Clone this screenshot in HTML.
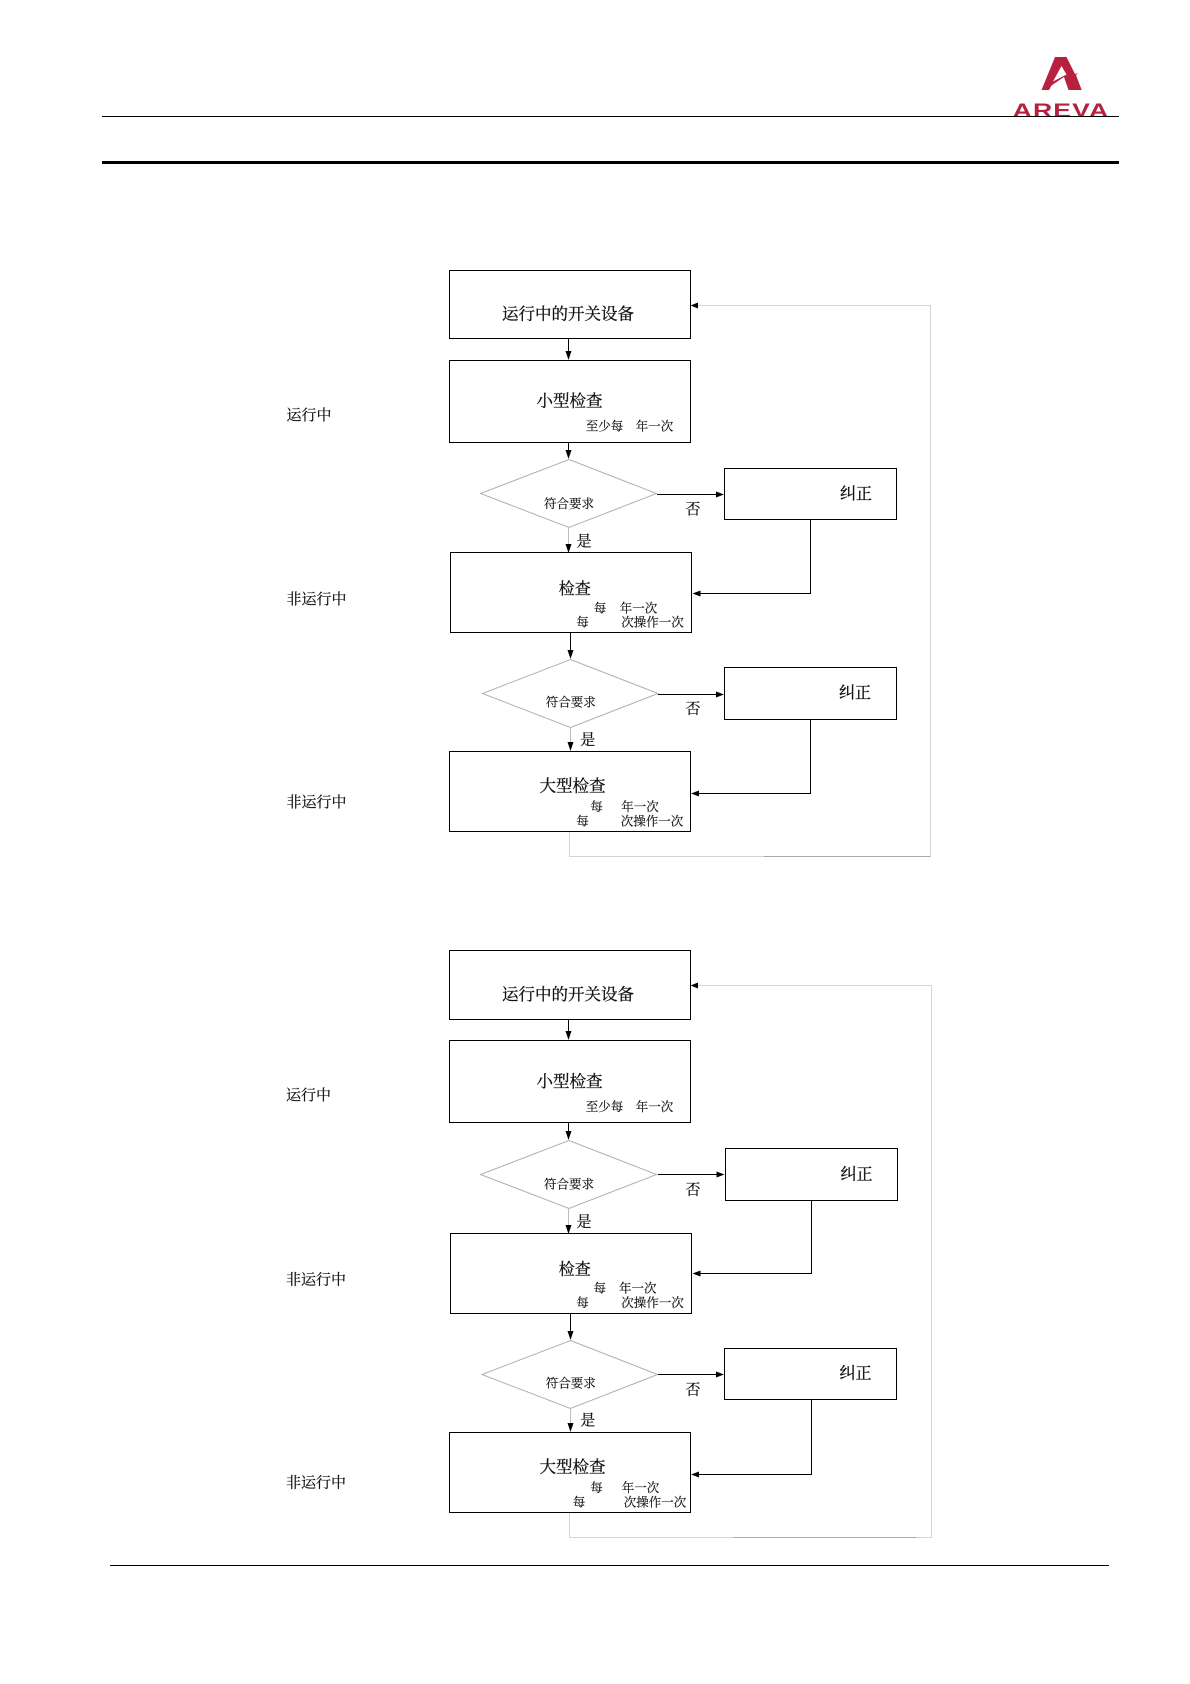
<!DOCTYPE html>
<html><head><meta charset="utf-8">
<style>
html,body{margin:0;padding:0;background:#fff}
svg{display:block}
text{font-family:"Liberation Serif","Noto Serif CJK SC",serif;fill:#111;stroke:#111;stroke-width:.15px;text-anchor:middle;dominant-baseline:central}
.r{fill:#fff;stroke:#000;stroke-width:1}
.d{fill:#fff;stroke:#b0b0b0;stroke-width:1}
.l{fill:none;stroke:#000;stroke-width:1}
.g{fill:none;stroke:#d4d4d4;stroke-width:1}
.y{fill:none;stroke:#bdbdbd;stroke-width:1}
.a{fill:#000}
.b{font-size:16px;stroke-width:.3px}.s{font-size:12.5px}.m{font-size:15px;stroke-width:.2px}
</style></head><body>
<svg width="1190" height="1684" viewBox="0 0 1190 1684" xmlns="http://www.w3.org/2000/svg">
<rect width="1190" height="1684" fill="#fff"/>
<!-- logo -->
<path fill-rule="evenodd" d="M1055 57H1066.500L1075 74L1078 73L1076 75L1081.700 90H1068.500L1064 77L1051.500 85.500L1049 90H1041.500ZM1061.500 66L1053 81.500L1066.500 74.500Z" fill="#b8203f"/>
<text transform="translate(1061,110.500) scale(1.4,1)" x="0" y="0" style="font-family:'Liberation Sans',sans-serif;font-weight:bold;font-size:19px;letter-spacing:.8px;fill:#b8203f;stroke:none">AREVA</text>
<rect x="1000" y="116.500" width="125" height="6" fill="#fff"/>
<!-- header -->
<rect x="102" y="116" width="1017" height="1" fill="#000"/>
<rect x="102" y="161" width="1017" height="3" fill="#000"/>
<rect x="110" y="1565" width="999" height="1" fill="#000"/>

<!-- TOP FLOW -->
<path class="g" d="M569.500 831V856.500H930.500V305.500H694"/>
<path d="M764 856.500H930.500" fill="none" stroke="#aaa"/>
<polygon class="a" points="690.500,305.500 698,302.500 698,308.500"/>
<rect class="r" x="449.500" y="270.500" width="241" height="68"/>
<rect class="r" x="449.500" y="360.500" width="241" height="82"/>
<rect class="r" x="450.500" y="552.500" width="241" height="80"/>
<rect class="r" x="449.500" y="751.500" width="241" height="80"/>
<rect class="r" x="724.500" y="468.500" width="172" height="51"/>
<rect class="r" x="724.500" y="667.500" width="172" height="52"/>
<polygon class="d" points="569,459.500 656.500,493.500 569,527.500 480.500,493.500"/>
<polygon class="d" points="570.500,659.500 658,693.500 570.500,727.500 482.500,693.500"/>
<path class="l" d="M568.500 338V352"/><polygon class="a" points="568.500,360 565.500,351 571.500,351"/>
<path class="l" d="M568.500 442V451"/><polygon class="a" points="568.500,459 565.500,450 571.500,450"/>
<path class="y" d="M568.500 528V545"/><polygon class="a" points="568.500,553 565.500,544 571.500,544"/>
<path class="l" d="M570.500 632V651"/><polygon class="a" points="570.500,659 567.500,650 573.500,650"/>
<path class="y" d="M570.500 728V743"/><polygon class="a" points="570.500,751 567.500,742 573.500,742"/>
<path class="l" d="M657 494.500H717"/><polygon class="a" points="724,494.500 716,491.500 716,497.500"/>
<path class="l" d="M658 694.500H717"/><polygon class="a" points="724,694.500 716,691.500 716,697.500"/>
<path class="l" d="M810.500 519V593.500H700"/><polygon class="a" points="692.500,593.500 700.500,590.500 700.500,596.500"/>
<path class="l" d="M810.500 719V793.500H698"/><polygon class="a" points="691,793.500 699,790.500 699,796.500"/>

<g transform="translate(0,1)">
<text class="b" x="568" y="313" style="font-size:16.500px">运行中的开关设备</text>
<text class="b" x="569.500" y="400" style="font-size:16.500px">小型检查</text>
<text class="s" x="604.500" y="425.500">至少每</text><text class="s" x="654.500" y="425.500">年一次</text>
<text class="s" x="569" y="503">符合要求</text>
<text class="b" x="856" y="493.500">纠正</text>
<text class="m" x="693" y="509">否</text>
<text class="m" x="584" y="541">是</text>
<text class="b" x="574.700" y="588.500">检查</text>
<text class="s" x="600" y="607.500">每</text><text class="s" x="638.500" y="607.500">年一次</text>
<text class="s" x="582.500" y="621.500">每</text><text class="s" x="652.500" y="621.500">次操作一次</text>
<text class="s" x="570.700" y="701.500">符合要求</text>
<text class="b" x="855" y="692.500">纠正</text>
<text class="m" x="693" y="708.500">否</text>
<text class="m" x="587.700" y="739.500">是</text>
<text class="b" x="572.500" y="785" style="font-size:16.500px">大型检查</text>
<text class="s" x="596.500" y="806">每</text><text class="s" x="640" y="806">年一次</text>
<text class="s" x="582.500" y="820.500">每</text><text class="s" x="652" y="820.500">次操作一次</text>
<text class="m" x="309" y="415">运行中</text>
<text class="m" x="316.500" y="599">非运行中</text>
<text class="m" x="316.500" y="802">非运行中</text>
</g>

<!-- BOTTOM FLOW -->
<path class="g" d="M569.500 1512V1537.500H931.500V985.500H694"/>
<path d="M734 1537.500H916" fill="none" stroke="#aaa"/>
<polygon class="a" points="690.500,985.500 698,982.500 698,988.500"/>
<rect class="r" x="449.500" y="950.500" width="241" height="69"/>
<rect class="r" x="449.500" y="1040.500" width="241" height="82"/>
<rect class="r" x="450.500" y="1233.500" width="241" height="80"/>
<rect class="r" x="449.500" y="1432.500" width="241" height="80"/>
<rect class="r" x="725.500" y="1148.500" width="172" height="52"/>
<rect class="r" x="724.500" y="1348.500" width="172" height="51"/>
<polygon class="d" points="569,1140.500 656.500,1174.500 569,1208.500 480.500,1174.500"/>
<polygon class="d" points="570.500,1340.500 657.500,1374.500 570.500,1408.500 482,1374.500"/>
<path class="l" d="M568.500 1019V1032"/><polygon class="a" points="568.500,1040 565.500,1031 571.500,1031"/>
<path class="l" d="M568.500 1122V1132"/><polygon class="a" points="568.500,1140 565.500,1131 571.500,1131"/>
<path class="y" d="M568.500 1209V1226"/><polygon class="a" points="568.500,1234 565.500,1225 571.500,1225"/>
<path class="l" d="M570.500 1313V1332"/><polygon class="a" points="570.500,1340 567.500,1331 573.500,1331"/>
<path class="y" d="M570.500 1409V1424"/><polygon class="a" points="570.500,1432 567.500,1423 573.500,1423"/>
<path class="l" d="M658 1174.500H717"/><polygon class="a" points="724.500,1174.500 716.500,1171.500 716.500,1177.500"/>
<path class="l" d="M658 1374.500H717"/><polygon class="a" points="724,1374.500 716,1371.500 716,1377.500"/>
<path class="l" d="M811.500 1200V1273.500H700"/><polygon class="a" points="692.500,1273.500 700.500,1270.500 700.500,1276.500"/>
<path class="l" d="M811.500 1399V1474.500H698"/><polygon class="a" points="691,1474.500 699,1471.500 699,1477.500"/>

<g transform="translate(0,1)">
<text class="b" x="568" y="993.500" style="font-size:16.500px">运行中的开关设备</text>
<text class="b" x="569.500" y="1080.500" style="font-size:16.500px">小型检查</text>
<text class="s" x="604.500" y="1106">至少每</text><text class="s" x="654.500" y="1106">年一次</text>
<text class="s" x="569" y="1183.500">符合要求</text>
<text class="b" x="856.500" y="1174">纠正</text>
<text class="m" x="693" y="1189.500">否</text>
<text class="m" x="584" y="1221.500">是</text>
<text class="b" x="574.700" y="1269">检查</text>
<text class="s" x="599.700" y="1287.500">每</text><text class="s" x="637.700" y="1287.500">年一次</text>
<text class="s" x="582.500" y="1302">每</text><text class="s" x="652.500" y="1302">次操作一次</text>
<text class="s" x="570.700" y="1382.500">符合要求</text>
<text class="b" x="855.500" y="1373">纠正</text>
<text class="m" x="693" y="1389.500">否</text>
<text class="m" x="587.700" y="1420">是</text>
<text class="b" x="572.500" y="1466" style="font-size:16.500px">大型检查</text>
<text class="s" x="596.500" y="1487">每</text><text class="s" x="640.500" y="1487">年一次</text>
<text class="s" x="579" y="1501.500">每</text><text class="s" x="655" y="1501.500">次操作一次</text>
<text class="m" x="308.500" y="1095">运行中</text>
<text class="m" x="316" y="1279.500">非运行中</text>
<text class="m" x="316" y="1482.500">非运行中</text>
</g>
</svg>
</body></html>
